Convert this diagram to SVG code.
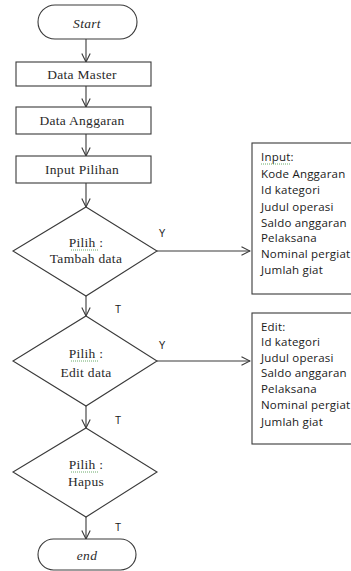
<svg xmlns="http://www.w3.org/2000/svg" width="351" height="571" viewBox="0 0 351 571">
  <style>
    .shape { fill: #ffffff; stroke: #3a3a3a; stroke-width: 1.1; }
    .flow { fill: none; stroke: #3a3a3a; stroke-width: 1.1; }
    .serif { font-family: "Liberation Serif", "Times New Roman", serif; font-size: 13.5px; font-weight: normal; fill: #2a2a2a; text-anchor: middle; letter-spacing: 0.3px; }
    .term { font-style: italic; }
    .note { font-family: "Open Sans", "Noto Sans", "DejaVu Sans", sans-serif; font-size: 11.5px; font-weight: normal; fill: #1a1a1a; letter-spacing: 0.2px; }
    .lbl { font-family: "Liberation Sans", Arial, sans-serif; font-size: 10px; fill: #1a1a1a; text-anchor: middle; }
    .spell { fill: none; stroke: #5aa05a; stroke-width: 0.9; stroke-dasharray: 1 1; }
  </style>
  <defs>
    <marker id="arrow" markerUnits="userSpaceOnUse" viewBox="0 0 10 10" markerWidth="10" markerHeight="10" refX="9.5" refY="5" orient="auto">
      <path d="M1,0.8 L9.5,5 L1,9.2" fill="none" stroke="#3a3a3a" stroke-width="1.1"/>
    </marker>
  </defs>
  <rect width="351" height="571" fill="#ffffff"/>

  <!-- connectors -->
  <g id="connectors">
    <line class="flow" x1="86" y1="39" x2="86" y2="62" marker-end="url(#arrow)"/>
    <line class="flow" x1="86" y1="86" x2="86" y2="107" marker-end="url(#arrow)"/>
    <line class="flow" x1="86" y1="134" x2="86" y2="156" marker-end="url(#arrow)"/>
    <line class="flow" x1="86" y1="183" x2="86" y2="207" marker-end="url(#arrow)"/>
    <line class="flow" x1="157" y1="251" x2="250" y2="251" marker-end="url(#arrow)"/>
    <line class="flow" x1="86" y1="296" x2="86" y2="316" marker-end="url(#arrow)"/>
    <line class="flow" x1="157" y1="361" x2="250" y2="361" marker-end="url(#arrow)"/>
    <line class="flow" x1="86" y1="406" x2="86" y2="428" marker-end="url(#arrow)"/>
    <line class="flow" x1="86" y1="517" x2="86" y2="539" marker-end="url(#arrow)"/>
    <text class="lbl" x="162" y="237">Y</text>
    <text class="lbl" x="118" y="313">T</text>
    <text class="lbl" x="162" y="349">Y</text>
    <text class="lbl" x="118" y="424">T</text>
    <text class="lbl" x="118" y="531">T</text>
  </g>

  <g id="start">
    <rect class="shape" x="38" y="5" width="99" height="34" rx="17" ry="17"/>
    <text class="serif term" x="87" y="28">Start</text>
  </g>

  <g id="data-master">
    <rect class="shape" x="16" y="62" width="135" height="24"/>
    <text class="serif" x="82" y="78.5">Data Master</text>
  </g>

  <g id="data-anggaran">
    <rect class="shape" x="16" y="107" width="135" height="27"/>
    <text class="serif" x="82" y="125">Data Anggaran</text>
  </g>

  <g id="input-pilihan">
    <rect class="shape" x="16" y="156" width="135" height="27"/>
    <text class="serif" x="82" y="174">Input Pilihan</text>
  </g>

  <g id="pilih-tambah">
    <polygon class="shape" points="86,207 157,251 86,296 13,251"/>
    <text class="serif" x="86" y="247">Pilih :</text>
    <path class="spell" d="M71,250 H98"/>
    <text class="serif" x="86" y="263">Tambah data</text>
  </g>

  <g id="pilih-edit">
    <polygon class="shape" points="86,316 157,361 86,406 13,361"/>
    <text class="serif" x="86" y="358">Pilih :</text>
    <path class="spell" d="M71,361 H98"/>
    <text class="serif" x="86" y="377">Edit data</text>
  </g>

  <g id="pilih-hapus">
    <polygon class="shape" points="86,428 157,472 86,517 13,472"/>
    <text class="serif" x="86" y="469">Pilih :</text>
    <path class="spell" d="M71,472 H98"/>
    <text class="serif" x="86" y="486">Hapus</text>
  </g>

  <g id="end">
    <rect class="shape" x="38" y="539" width="98" height="31" rx="15.5" ry="15.5"/>
    <text class="serif term" x="87" y="560">end</text>
  </g>

  <g id="input-fields">
    <rect class="shape" x="252" y="143" width="110" height="151"/>
    <text class="note" x="261" y="161">Input:</text>
    <path class="spell" d="M261,164 H290"/>
    <text class="note" x="261" y="178">Kode Anggaran</text>
    <text class="note" x="261" y="194">Id kategori</text>
    <text class="note" x="261" y="211">Judul operasi</text>
    <text class="note" x="261" y="227">Saldo anggaran</text>
    <text class="note" x="261" y="242">Pelaksana</text>
    <text class="note" x="261" y="258">Nominal pergiat</text>
    <text class="note" x="261" y="274">Jumlah giat</text>
  </g>

  <g id="edit-fields">
    <rect class="shape" x="252" y="313" width="110" height="131"/>
    <text class="note" x="261" y="331">Edit:</text>
    <text class="note" x="261" y="346">Id kategori</text>
    <text class="note" x="261" y="362">Judul operasi</text>
    <text class="note" x="261" y="377">Saldo anggaran</text>
    <text class="note" x="261" y="393">Pelaksana</text>
    <text class="note" x="261" y="409">Nominal pergiat</text>
    <text class="note" x="261" y="426">Jumlah giat</text>
  </g>
</svg>
